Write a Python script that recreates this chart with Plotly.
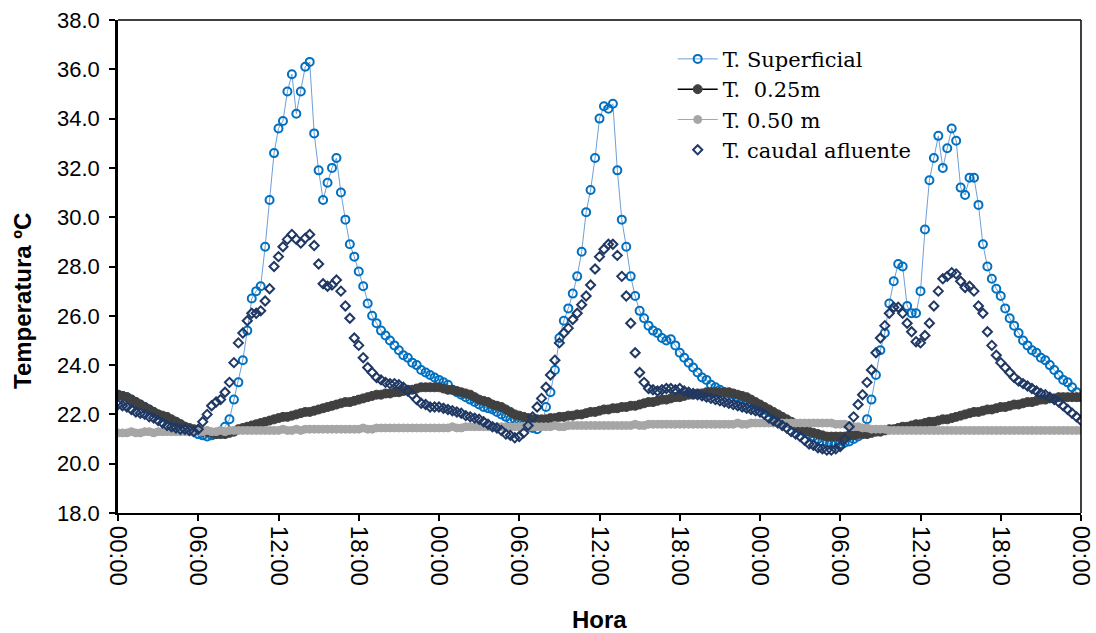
import plotly.graph_objects as go

# time grid: 20-minute readings over 72 h (hours since first 00:00)
step_min = 20
n_points = 217
hours = [i * step_min / 60 for i in range(n_points)]

tick_hours = [0, 6, 12, 18, 24, 30, 36, 42, 48, 54, 60, 66, 72]
tick_labels = ["00:00", "06:00", "12:00", "18:00", "00:00", "06:00", "12:00",
               "18:00", "00:00", "06:00", "12:00", "18:00", "00:00"]

t_superficial = [
    22.8, 22.75, 22.7, 22.6, 22.5, 22.4, 22.3, 22.2, 22.1, 22.0, 21.9, 21.8,
    21.75, 21.7, 21.6, 21.5, 21.4, 21.3,
    21.2, 21.15, 21.1, 21.15, 21.2, 21.3, 21.5, 21.8, 22.6, 23.3, 24.2, 25.4,
    26.7, 27.0, 27.2, 28.8, 30.7, 32.6, 33.6, 33.9, 35.1, 35.8, 34.2, 35.1,
    36.1, 36.3, 33.4, 31.9, 30.7, 31.4, 32.0, 32.4, 31.0, 29.9, 28.9, 28.4,
    27.8, 27.2, 26.5, 26.0, 25.7, 25.4, 25.2, 25.0, 24.8, 24.6, 24.4, 24.3,
    24.1, 24.0, 23.8, 23.7, 23.6, 23.5,
    23.4, 23.3, 23.2, 23.0, 22.9, 22.8, 22.7, 22.6, 22.5, 22.4, 22.3, 22.25,
    22.2, 22.1, 22.0, 21.9, 21.8, 21.8, 21.7, 21.6, 21.5, 21.45, 21.4, 21.6,
    22.3, 22.9, 23.8, 25.1, 25.8, 26.3, 26.9, 27.6, 28.6, 30.2, 31.1, 32.4,
    34.0, 34.5, 34.4, 34.6, 31.9, 29.9, 28.8, 27.6, 26.8, 26.2, 25.9, 25.6,
    25.4, 25.3, 25.1, 25.0, 25.05, 24.8, 24.5, 24.3, 24.1, 23.9, 23.7, 23.5,
    23.4, 23.2, 23.1, 23.0, 22.9, 22.85, 22.8, 22.7, 22.65, 22.6, 22.5, 22.4,
    22.3, 22.2, 22.1, 22.0, 21.9, 21.8, 21.7, 21.6, 21.5, 21.4, 21.3, 21.2,
    21.1, 21.0, 20.9, 20.85, 20.8, 20.8, 20.8, 20.85, 20.9, 21.0, 21.1, 21.3,
    21.8, 22.6, 23.6, 24.6, 25.3, 26.5, 27.4, 28.1, 28.0, 26.4, 26.1, 26.1,
    27.0, 29.5, 31.5, 32.4, 33.3, 32.0, 32.8, 33.6, 33.1, 31.2, 30.9, 31.6,
    31.6, 30.5, 28.9, 28.0, 27.5, 27.1, 26.8, 26.3, 25.9, 25.6, 25.3, 25.0,
    24.8, 24.6, 24.5, 24.3, 24.2, 24.0, 23.8, 23.6, 23.4, 23.3, 23.1, 22.9,
    22.7,
]

t_025 = [
    22.8, 22.75, 22.7, 22.6, 22.5, 22.4, 22.3, 22.2, 22.1, 22.0, 21.95, 21.9,
    21.8, 21.7, 21.6, 21.5, 21.45, 21.4, 21.35, 21.3, 21.3, 21.25, 21.2, 21.2,
    21.2, 21.25, 21.3, 21.4, 21.45, 21.5, 21.55, 21.6, 21.65, 21.7, 21.75, 21.8,
    21.85, 21.9, 21.9, 21.95, 22.0, 22.05, 22.1, 22.1, 22.15, 22.2, 22.25, 22.3,
    22.35, 22.4, 22.45, 22.5, 22.5, 22.55, 22.6, 22.65, 22.7, 22.75, 22.8, 22.8,
    22.85, 22.85, 22.9, 22.9, 22.95, 23.0, 23.0, 23.05, 23.1, 23.1, 23.1, 23.1,
    23.1, 23.05, 23.0, 23.0, 22.95, 22.9, 22.85, 22.8, 22.7, 22.6, 22.55, 22.5,
    22.4, 22.35, 22.3, 22.2, 22.1, 22.0, 21.95, 21.9, 21.85, 21.8, 21.8, 21.8,
    21.8, 21.85, 21.85, 21.9, 21.9, 21.95, 21.95, 22.0, 22.0, 22.05, 22.1, 22.1,
    22.15, 22.2, 22.2, 22.25, 22.25, 22.3, 22.3, 22.35, 22.35, 22.4, 22.45, 22.5,
    22.5, 22.55, 22.6, 22.6, 22.65, 22.7, 22.7, 22.75, 22.8, 22.8, 22.85, 22.85,
    22.9, 22.9, 22.9, 22.9, 22.9, 22.9, 22.85, 22.8, 22.75, 22.7, 22.6, 22.5,
    22.4, 22.3, 22.2, 22.1, 22.0, 21.9, 21.8, 21.7, 21.6, 21.5, 21.4, 21.3,
    21.25, 21.2, 21.15, 21.1, 21.1, 21.1, 21.1, 21.1, 21.15, 21.15, 21.2, 21.2,
    21.2, 21.25, 21.3, 21.3, 21.35, 21.4, 21.4, 21.45, 21.5, 21.5, 21.55, 21.6,
    21.6, 21.65, 21.7, 21.7, 21.75, 21.8, 21.8, 21.85, 21.9, 21.95, 22.0, 22.05,
    22.1, 22.1, 22.15, 22.2, 22.2, 22.25, 22.3, 22.3, 22.35, 22.4, 22.4, 22.45,
    22.5, 22.5, 22.55, 22.6, 22.6, 22.65, 22.65, 22.7, 22.7, 22.7, 22.7, 22.7,
    22.7,
]

t_050 = [
    21.25, 21.25, 21.25, 21.3, 21.25, 21.25, 21.3, 21.3, 21.25, 21.3, 21.3, 21.3,
    21.3, 21.3, 21.3, 21.3, 21.3, 21.3, 21.3, 21.3, 21.35, 21.3, 21.3, 21.35,
    21.3, 21.35, 21.35, 21.35, 21.35, 21.35, 21.35, 21.35, 21.35, 21.35, 21.35, 21.35,
    21.35, 21.4, 21.35, 21.35, 21.4, 21.35, 21.4, 21.4, 21.4, 21.4, 21.4, 21.4,
    21.4, 21.4, 21.4, 21.4, 21.4, 21.4, 21.4, 21.45, 21.4, 21.4, 21.45, 21.45,
    21.45, 21.45, 21.45, 21.45, 21.45, 21.45, 21.45, 21.45, 21.45, 21.45, 21.45, 21.45,
    21.45, 21.45, 21.45, 21.5, 21.45, 21.45, 21.5, 21.5, 21.5, 21.5, 21.5, 21.5,
    21.5, 21.5, 21.5, 21.5, 21.5, 21.5, 21.5, 21.5, 21.5, 21.5, 21.5, 21.5,
    21.5, 21.5, 21.55, 21.5, 21.5, 21.55, 21.55, 21.55, 21.55, 21.55, 21.55, 21.55,
    21.55, 21.55, 21.55, 21.55, 21.55, 21.55, 21.55, 21.55, 21.6, 21.55, 21.55, 21.6,
    21.6, 21.6, 21.6, 21.6, 21.6, 21.6, 21.6, 21.6, 21.6, 21.6, 21.6, 21.6,
    21.6, 21.6, 21.6, 21.6, 21.6, 21.6, 21.6, 21.65, 21.6, 21.6, 21.65, 21.65,
    21.65, 21.65, 21.65, 21.65, 21.65, 21.65, 21.65, 21.65, 21.65, 21.65, 21.65, 21.65,
    21.65, 21.65, 21.65, 21.65, 21.65, 21.6, 21.6, 21.6, 21.55, 21.5, 21.5, 21.45,
    21.45, 21.4, 21.4, 21.4, 21.4, 21.35, 21.35, 21.35, 21.35, 21.35, 21.35, 21.35,
    21.35, 21.35, 21.35, 21.35, 21.35, 21.35, 21.35, 21.35, 21.35, 21.35, 21.35, 21.35,
    21.35, 21.35, 21.35, 21.35, 21.35, 21.35, 21.35, 21.35, 21.35, 21.35, 21.35, 21.35,
    21.35, 21.35, 21.35, 21.35, 21.35, 21.35, 21.35, 21.35, 21.35, 21.35, 21.35, 21.35,
    21.35,
]

t_caudal = [
    22.4, 22.35, 22.3, 22.2, 22.1, 22.05, 22.0, 21.9, 21.85, 21.75, 21.65, 21.55,
    21.5, 21.45, 21.4, 21.4, 21.35, 21.3, 21.4, 21.7, 22.0, 22.35, 22.5, 22.6,
    22.9, 23.3, 24.1, 24.9, 25.3, 25.8, 26.1, 26.1, 26.2, 26.6, 27.1, 28.0,
    28.4, 28.8, 29.1, 29.3, 29.1, 28.95, 29.15, 29.3, 28.85, 28.1, 27.3, 27.2,
    27.25, 27.45, 27.0, 26.4, 25.9, 25.1, 24.8, 24.3, 23.9, 23.7, 23.5, 23.4,
    23.3, 23.25, 23.25, 23.2, 23.1, 22.95, 22.8, 22.6, 22.45, 22.4, 22.3, 22.3,
    22.3, 22.25, 22.2, 22.15, 22.1, 22.05, 21.95, 21.9, 21.85, 21.8, 21.7, 21.6,
    21.5, 21.45, 21.35, 21.2, 21.15, 21.05, 21.1, 21.25, 21.55, 21.9, 22.3, 22.65,
    23.1, 23.6, 24.2, 24.9, 25.3, 25.5, 25.85, 26.1, 26.45, 26.8, 27.25, 27.9,
    28.4, 28.7, 28.9, 28.9, 28.45, 27.6, 26.8, 25.7, 24.5, 23.7, 23.3, 23.05,
    23.0, 22.95, 23.0, 23.05, 23.05, 23.0, 23.05, 22.95, 22.9, 22.85, 22.8, 22.75,
    22.7, 22.65, 22.6, 22.55, 22.5, 22.45, 22.4, 22.35, 22.3, 22.25, 22.2, 22.15,
    22.1, 22.0, 21.85, 21.75, 21.65, 21.55, 21.45, 21.3, 21.2, 21.1, 20.95, 20.8,
    20.75, 20.65, 20.6, 20.55, 20.55, 20.6, 20.7, 21.0, 21.5, 21.9, 22.4, 22.8,
    23.3, 23.8, 24.5, 25.1, 25.6, 26.1, 26.35, 26.35, 26.1, 25.7, 25.35, 24.95,
    24.9, 25.2, 25.7, 26.4, 27.0, 27.5, 27.6, 27.75, 27.7, 27.4, 27.15, 27.2,
    27.0, 26.4, 26.1, 25.35, 24.8, 24.4, 24.1, 23.9, 23.7, 23.5, 23.35, 23.25,
    23.15, 23.05, 22.95, 22.85, 22.8, 22.7, 22.6, 22.5, 22.35, 22.2, 22.05, 21.9,
    21.75,
]

fig = go.Figure()

fig.add_trace(go.Scatter(
    x=hours, y=t_superficial, name="T. Superficial", mode="lines+markers",
    line=dict(color="#6F9FD8", width=1),
    marker=dict(symbol="circle-open", size=8, color="#0070C0",
                line=dict(color="#0070C0", width=2)),
))
fig.add_trace(go.Scatter(
    x=hours, y=t_025, name="T.  0.25m", mode="lines+markers",
    line=dict(color="#000000", width=1.5),
    marker=dict(symbol="circle", size=9, color="#404040",
                line=dict(color="#404040", width=1)),
))
fig.add_trace(go.Scatter(
    x=hours, y=t_050, name="T. 0.50 m", mode="lines+markers",
    line=dict(color="#A6A6A6", width=1),
    marker=dict(symbol="circle", size=8, color="#A6A6A6",
                line=dict(color="#A6A6A6", width=1)),
))
fig.add_trace(go.Scatter(
    x=hours, y=t_caudal, name="T. caudal afluente", mode="markers",
    marker=dict(symbol="diamond-open", size=7, color="#1F3864",
                line=dict(color="#1F3864", width=2)),
))

sans = "Arial, Liberation Sans, sans-serif"

fig.update_layout(
    width=1096, height=633,
    margin=dict(l=118, r=15, t=20, b=120),
    paper_bgcolor="white", plot_bgcolor="white",
    showlegend=True,
    legend=dict(
        x=0.576, y=0.962, xanchor="left", yanchor="top",
        bgcolor="rgba(0,0,0,0)",
        font=dict(family="DejaVu Serif, Liberation Serif, serif", size=21, color="#000000"),
        tracegroupgap=0, itemwidth=40,
    ),
    xaxis=dict(
        range=[0, 72], tickmode="array", tickvals=tick_hours, ticktext=tick_labels,
        tickangle=90, tickfont=dict(family=sans, size=24, color="#000000"),
        ticks="outside", ticklen=6, tickwidth=2,
        tickcolor="#000000", showline=True, linecolor="#000000", linewidth=2,
        showgrid=False, zeroline=False, automargin=False,
    ),
    yaxis=dict(
        range=[18, 38], tickmode="linear", tick0=18, dtick=2, tickformat=".1f",
        tickfont=dict(family=sans, size=22, color="#000000"),
        ticks="outside", ticklen=6, tickwidth=2, ticklabelstandoff=5,
        tickcolor="#000000", showline=True, linecolor="#000000", linewidth=2.5,
        showgrid=False, zeroline=False, automargin=False,
    ),
    annotations=[
        dict(text="<b>Hora</b>", xref="paper", yref="paper", x=0.5, y=-0.217,
             xanchor="center", yanchor="middle", showarrow=False,
             font=dict(family=sans, size=24, color="#000000")),
        dict(text="<b>Temperatura ºC</b>", xref="paper", yref="paper",
             x=-0.0997, y=0.43, xanchor="center", yanchor="middle", textangle=-90,
             showarrow=False, font=dict(family=sans, size=24, color="#000000")),
    ],
    shapes=[
        dict(type="line", xref="paper", yref="paper", x0=0, x1=1, y0=1, y1=1,
             line=dict(color="#000000", width=1.5)),
        dict(type="line", xref="paper", yref="paper", x0=1, x1=1, y0=0, y1=1,
             line=dict(color="#000000", width=1.5)),
    ],
)

fig.write_html("out.html")
